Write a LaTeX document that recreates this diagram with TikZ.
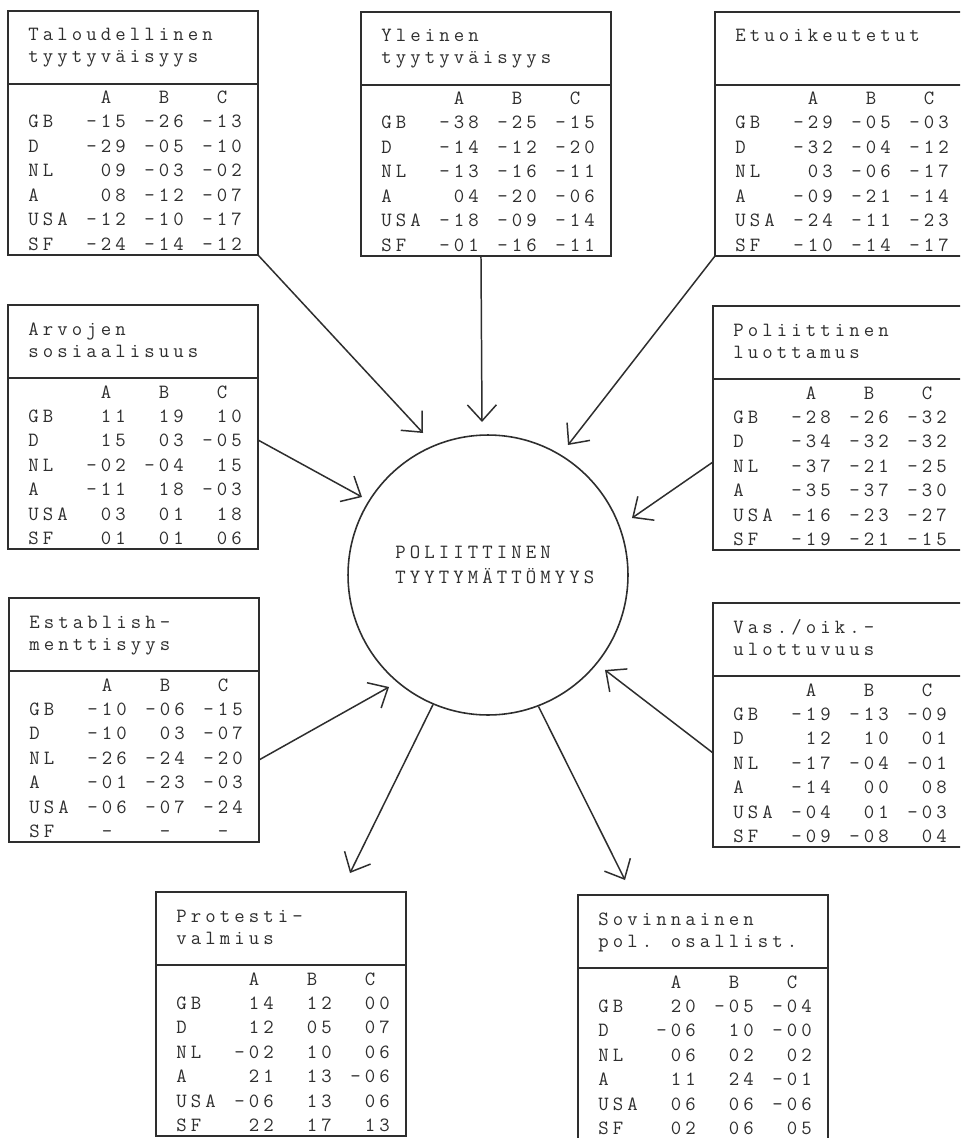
\documentclass[tikz,border=0pt]{standalone}
\usepackage{fontspec}
\usetikzlibrary{arrows.meta,calc}
\definecolor{ink}{gray}{0.18}
\newlength\pitch
\setlength\pitch{0.29cm}
\makeatletter
\def\gridtext#1{\grid@loop#1\relax}
\def\grid@loop#1{\ifx#1\relax\else\makebox[\pitch][c]{#1}\expandafter\grid@loop\fi}
\makeatother
\tikzset{
  tbox/.style={draw=ink, line width=1pt, minimum width=5cm, minimum height=4.88cm,
    inner sep=0pt, outer sep=0pt, anchor=north west},
  sepline/.style={draw=ink, line width=1pt},
  txt/.style={inner sep=0pt, anchor=base west, text=ink,
    font=\ttfamily\fontsize{11.5}{13}\selectfont},
  arr/.style={draw=ink, line width=0.85pt, -{Straight Barb[length=0.32cm,width=0.58cm]}},
  hub/.style={circle, draw=ink, line width=0.9pt, minimum size=5.6cm, inner sep=0pt}
}
\newcommand\tbl[6]{%
  \node[tbox] (#1) at (#2,#3) {};
  \draw[sepline] ($(#1.north west)+(0,73)$) -- ($(#1.north east)+(0,73)$);
  \node[txt] (#1-t1) at (#2+18,#3+30) {\gridtext{#4}};
  \node[txt] (#1-t2) at (#2+18,#3+52) {\gridtext{#5}};
  \node[txt] (#1-h) at (#2+18,#3+93) {\gridtext{~~~~~A~~~B~~~C}};
  \foreach \r [count=\k from 0] in {#6} {
    \node[txt] (#1-r\k) at (#2+18,{#3+117+24.5*\k}) {\expandafter\gridtext\expandafter{\r}};
  }%
}
\begin{document}
\begin{tikzpicture}[x=0.02cm,y=-0.02cm]
\useasboundingbox (0,0) rectangle (960,1138);
\fill[white] (0,0) rectangle (960,1138);
\clip (0,0) rectangle (960,1138);

\tbl{t1}{8}{11}{Taloudellinen}{tyytyväisyys}{%
GB~~-15~-26~-13,
D~~~-29~-05~-10,
NL~~~09~-03~-02,
A~~~~08~-12~-07,
USA~-12~-10~-17,
SF~~-24~-14~-12}

\tbl{t2}{361}{12}{Yleinen}{tyytyväisyys}{%
GB~~-38~-25~-15,
D~~~-14~-12~-20,
NL~~-13~-16~-11,
A~~~~04~-20~-06,
USA~-18~-09~-14,
SF~~-01~-16~-11}

\tbl{t3}{715}{12}{Etuoikeutetut}{}{%
GB~~-29~-05~-03,
D~~~-32~-04~-12,
NL~~~03~-06~-17,
A~~~-09~-21~-14,
USA~-24~-11~-23,
SF~~-10~-14~-17}

\tbl{t4}{8}{305}{Arvojen}{sosiaalisuus}{%
GB~~~11~~19~~10,
D~~~~15~~03~-05,
NL~~-02~-04~~15,
A~~~-11~~18~-03,
USA~~03~~01~~18,
SF~~~01~~01~~06}

\tbl{t5}{713}{306}{Poliittinen}{luottamus}{%
GB~~-28~-26~-32,
D~~~-34~-32~-32,
NL~~-37~-21~-25,
A~~~-35~-37~-30,
USA~-16~-23~-27,
SF~~-19~-21~-15}

\tbl{t6}{9}{598}{Establish-}{menttisyys}{%
GB~~-10~-06~-15,
D~~~-10~~03~-07,
NL~~-26~-24~-20,
A~~~-01~-23~-03,
USA~-06~-07~-24,
SF~~~-~~~-~~~-}

\tbl{t7}{713}{603}{Vas./oik.-}{ulottuvuus}{%
GB~~-19~-13~-09,
D~~~~12~~10~~01,
NL~~-17~-04~-01,
A~~~-14~~00~~08,
USA~-04~~01~-03,
SF~~-09~-08~~04}

\tbl{t8}{156}{892}{Protesti-}{valmius}{%
GB~~~14~~12~~00,
D~~~~12~~05~~07,
NL~~-02~~10~~06,
A~~~~21~~13~-06,
USA~-06~~13~~06,
SF~~~22~~17~~13}

\tbl{t9}{578}{895}{Sovinnainen}{pol.~osallist.}{%
GB~~~20~-05~-04,
D~~~-06~~10~-00,
NL~~~06~~02~~02,
A~~~~11~~24~-01,
USA~~06~~06~-06,
SF~~~02~~06~~05}

\node[hub] (c) at (488,575) {};
\node[txt] (c-t1) at (393,558) {\gridtext{POLIITTINEN}};
\node[txt] (c-t2) at (393,583) {\gridtext{TYYTYMÄTTÖMYYS}};

\coordinate (p1) at (423,433);
\coordinate (p2) at (482,422);
\coordinate (p3) at (568,445);
\coordinate (p4) at (362,497);
\coordinate (p5) at (632,518);
\coordinate (p6) at (389,687);
\coordinate (p7) at (605,670);
\coordinate (p8) at (350,873);
\coordinate (p9) at (625,880);

\draw[arr] (t1.south east) -- (p1);
\draw[arr] ($(t2.south)+(-5,0)$) -- (p2);
\draw[arr] (t3.south west) -- (p3);
\draw[arr] ($(t4.east)+(0,13)$) -- (p4);
\draw[arr] ($(t5.west)+(0,34)$) -- (p5);
\draw[arr] ($(t6.east)+(0,40)$) -- (p6);
\draw[arr] ($(t7.west)+(0,28)$) -- (p7);
\draw[arr] (c.247) -- (p8);
\draw[arr] (c.291) -- (p9);
\end{tikzpicture}
\end{document}
